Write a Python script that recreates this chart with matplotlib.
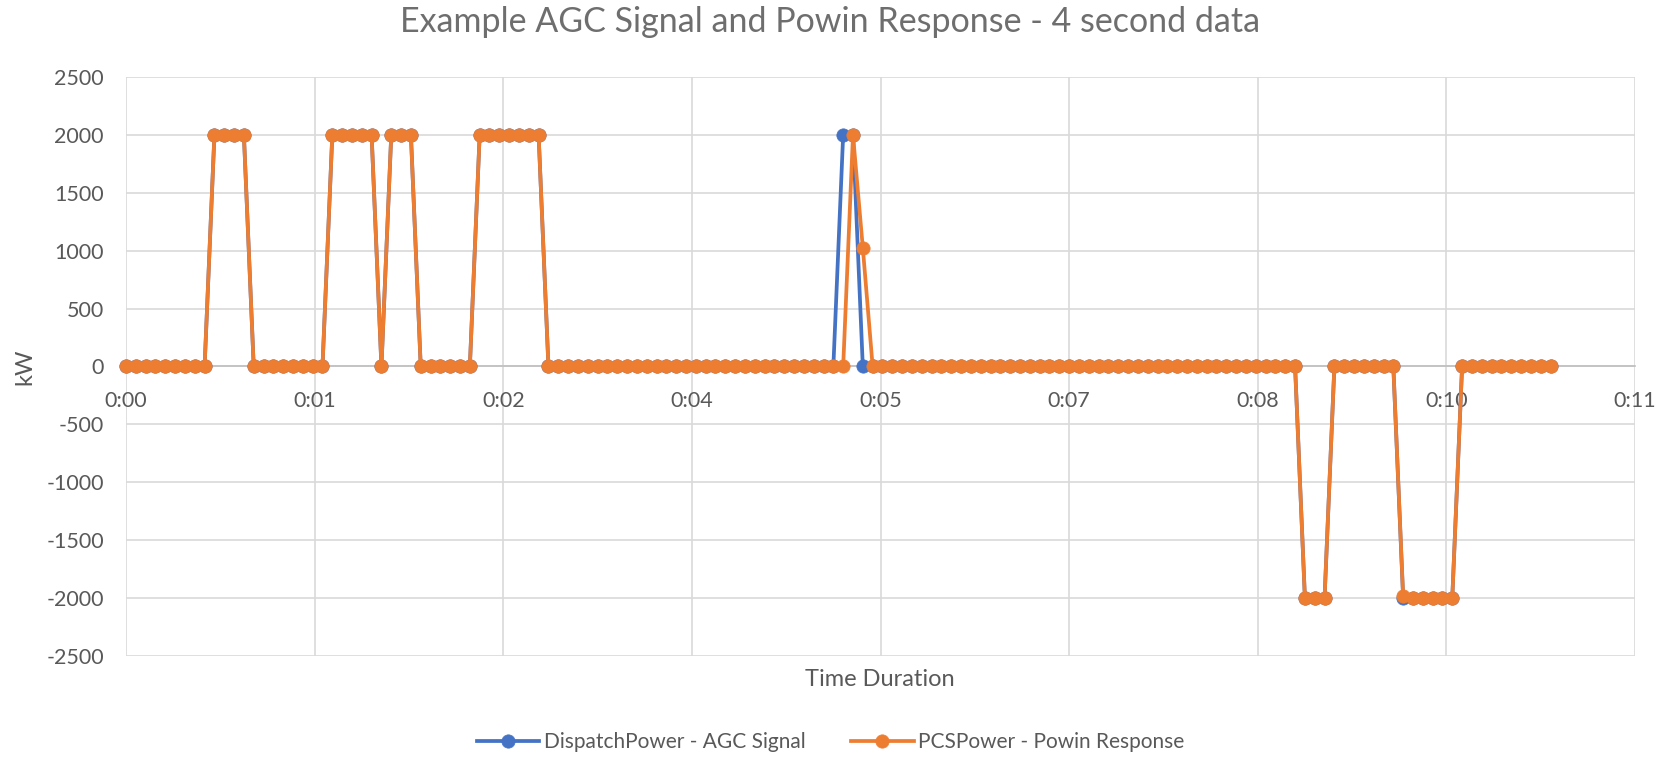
import numpy as np
import matplotlib.pyplot as plt
from matplotlib.ticker import FuncFormatter, MultipleLocator

plt.rcParams['font.family'] = ['Lato', 'DejaVu Sans']
plt.rcParams['axes.unicode_minus'] = False

paso_s = 4.5

# DispatchPower - AGC Signal (kW)
agc = [0, 0, 0, 0, 0, 0, 0, 0, 0,
       2000, 2000, 2000, 2000,
       0, 0, 0, 0, 0, 0, 0, 0,
       2000, 2000, 2000, 2000, 2000,
       0,
       2000, 2000, 2000,
       0, 0, 0, 0, 0, 0,
       2000, 2000, 2000, 2000, 2000, 2000, 2000,
       0, 0, 0, 0, 0, 0, 0, 0, 0, 0, 0, 0, 0, 0, 0,
       0, 0, 0, 0, 0, 0, 0, 0, 0, 0, 0, 0, 0, 0, 0,
       2000, 2000,
       0,
       0, 0, 0, 0, 0, 0, 0, 0, 0, 0, 0, 0, 0, 0, 0, 0, 0, 0, 0, 0, 0, 0,
       0, 0, 0, 0, 0, 0, 0, 0, 0, 0, 0, 0, 0, 0, 0, 0, 0, 0, 0, 0, 0, 0,
       -2000, -2000, -2000,
       0, 0, 0, 0, 0, 0, 0,
       -2000, -2000, -2000, -2000, -2000, -2000,
       0, 0, 0, 0, 0, 0, 0, 0, 0, 0]

# PCSPower - Powin Response (kW)
pcs = [0, 0, 0, 0, 0, 0, 0, 0, 0,
       2000, 2000, 2000, 2000,
       0, 0, 0, 0, 0, 0, 0, 0,
       2000, 2000, 2000, 2000, 2000,
       0,
       2000, 2000, 2000,
       0, 0, 0, 0, 0, 0,
       2000, 2000, 2000, 2000, 2000, 2000, 2000,
       0, 0, 0, 0, 0, 0, 0, 0, 0, 0, 0, 0, 0, 0, 0, 0,
       0, 0, 0, 0, 0, 0, 0, 0, 0, 0, 0, 0, 0, 0, 0,
       2000,
       1025,
       0, 0, 0, 0, 0, 0, 0, 0, 0, 0, 0, 0, 0, 0, 0, 0, 0, 0, 0, 0, 0, 0,
       0, 0, 0, 0, 0, 0, 0, 0, 0, 0, 0, 0, 0, 0, 0, 0, 0, 0, 0, 0, 0, 0,
       -2000, -2000, -2000,
       0, 0, 0, 0, 0, 0, 0,
       -1985, -2000, -2000, -2000, -2000, -2000,
       0, 0, 0, 0, 0, 0, 0, 0, 0, 0]

assert len(agc) == len(pcs) == 146

# tiempo en fracciones de dia (como Excel)
tiempo = np.arange(len(agc)) * paso_s / 86400.0

gris = '#595959'
azul = '#4472C4'
naranja = '#ED7D31'

fig = plt.figure(figsize=(16.61, 7.65), dpi=100)
ax = fig.add_axes([126 / 1661, 1 - 656 / 765, (1635 - 126) / 1661, (656 - 77) / 765])

ax.plot(tiempo, agc, color=azul, lw=2.7, marker='o', ms=9.6, mew=0.5,
        label='DispatchPower - AGC Signal', clip_on=False, zorder=3)
ax.plot(tiempo, pcs, color=naranja, lw=2.7, marker='o', ms=9.6, mew=0.5,
        label='PCSPower - Powin Response', clip_on=False, zorder=4)

ax.set_xlim(0, 0.008)
ax.set_ylim(-2500, 2500)
ax.xaxis.set_major_locator(MultipleLocator(0.001))
ax.yaxis.set_major_locator(MultipleLocator(500))
ax.xaxis.set_major_formatter(FuncFormatter(
    lambda v, p: '%d:%02d' % divmod(int(v * 1440 + 1e-6), 60)))

ax.grid(True, color='#D9D9D9', lw=1.2)
ax.set_axisbelow(True)
for lado in ['top', 'right', 'left']:
    ax.spines[lado].set_visible(False)
ax.spines['bottom'].set_position(('data', 0))
ax.spines['bottom'].set_color('#BFBFBF')
ax.spines['bottom'].set_linewidth(1.2)
ax.tick_params(axis='both', length=0, labelsize=15.5, labelcolor=gris)
ax.tick_params(axis='x', pad=18)
ax.tick_params(axis='y', pad=16)

fig.text(0.5, 1 - 22 / 765, 'Example AGC Signal and Powin Response - 4 second data',
         ha='center', va='center', fontsize=24.5, color='#6E6E6E')
fig.text(25 / 1661, 1 - 367 / 765, 'kW', rotation=90, ha='center', va='center',
         fontsize=17, color=gris)
fig.text(880 / 1661, 1 - 680 / 765, 'Time Duration', ha='center', va='center',
         fontsize=17, color=gris)

fig.legend(loc='center', bbox_to_anchor=(0.5, 1 - 742 / 765), ncol=2, frameon=False,
           fontsize=15, labelcolor=gris, handlelength=3.0, handletextpad=0.2,
           columnspacing=2.2)

fig.savefig('out.png', dpi=100)
